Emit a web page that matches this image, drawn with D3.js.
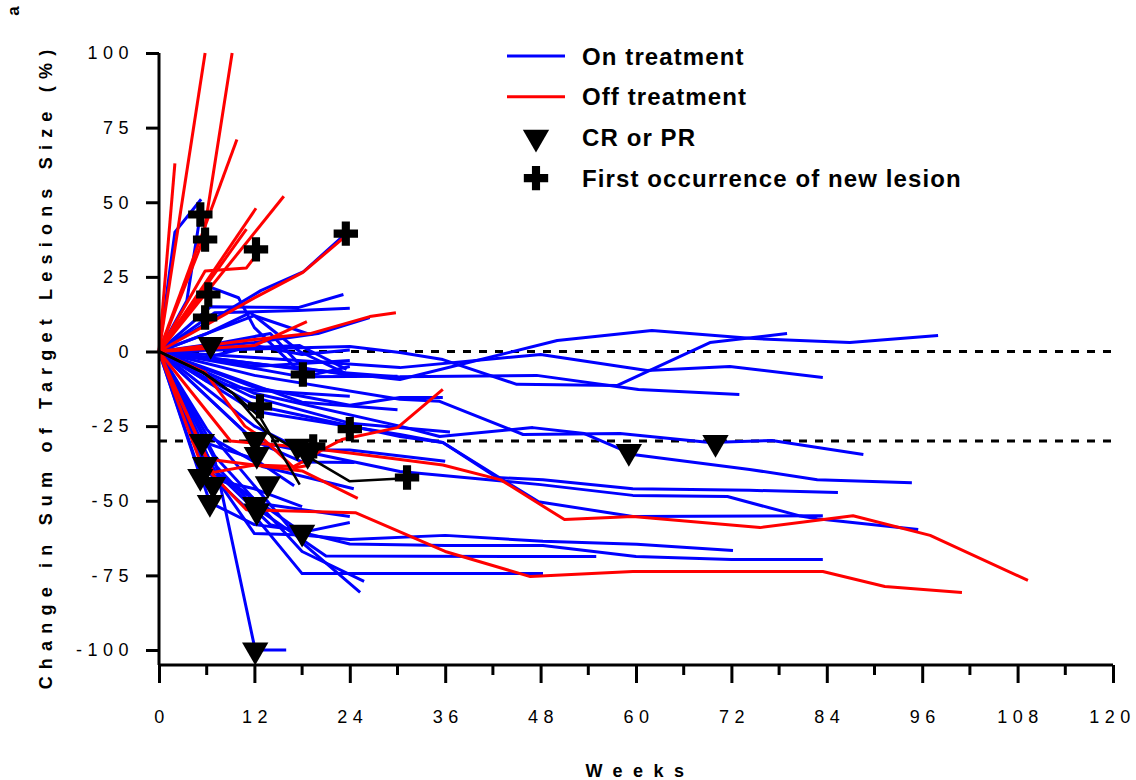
<!DOCTYPE html>
<html>
<head>
<meta charset="utf-8">
<script src="https://cdn.jsdelivr.net/npm/d3@7"></script>
<style>
  body { margin: 0; background: #fff; }
  text { font-family: "Liberation Sans", Arial, sans-serif; }
</style>
</head>
<body>
<svg id="chart"></svg>
<script>
const width = 1136;
const height = 780;

// patients still on treatment: [week, % change]
const onTreatment = [
  [[0,0],[2,40],[5.3,51]],
  [[0,0],[3.5,17],[5.2,46]],
  [[0,0],[12.8,20.4],[18.2,26.8],[23.5,39.5]],
  [[0,0],[6.5,15],[17.5,14.7],[23.2,19.1]],
  [[0,0],[7,13],[17.5,13.7],[24,14.5]],
  [[0,0],[6,22],[10,18],[12,8],[17,-5],[24,-8]],
  [[0,0],[12,3],[20,6],[26.5,11.4]],
  [[0,0],[12,12],[19,5.7],[23.4,9]],
  [[0,0],[6,6],[11.5,13],[17.7,0],[24,-8]],
  [[0,0],[12,-4],[30.3,-9.4],[50.1,3.7],[62,7],[74.3,4.4],[86.9,3],[98,5.4]],
  [[0,0],[24,1.7],[30.3,-0.3],[35.7,-2.7],[45,-11],[57.6,-11.4],[69.3,3],[79,6]],
  [[0,0],[12,-2],[30.3,-5.4],[48,-1],[61.4,-6.4],[71.8,-5],[83.5,-8.7]],
  [[0,0],[18,-6],[30.3,-8.5],[47.5,-8],[60.3,-12.7],[73,-14.4]],
  [[0,0],[12,-12],[24,-18],[30.3,-15.4],[35.7,-15.4]],
  [[0,0],[12,-8],[30.3,-16],[35.3,-16.7],[45.8,-27.8],[58,-27.5],[69.3,-30.5],[77.1,-29.8],[88.6,-34.5]],
  [[0,0],[12,-14],[30.3,-25],[35.3,-28.5],[47,-25.5],[53.5,-27.5],[59.6,-34.5],[74.3,-39.5],[82.8,-43],[94.7,-44]],
  [[0,0],[12,-18],[30.3,-28.5],[35.7,-30.5],[42.5,-42.2],[48.3,-43],[59.6,-46],[74.3,-46.5],[85.4,-47.2]],
  [[0,0],[12,-20],[30.3,-27.8],[35.7,-30.5],[47.7,-50.3],[59.6,-55.3],[83.5,-55]],
  [[0,0],[12,-30],[30.3,-40.2],[48,-44.6],[59.6,-48.2],[71.5,-48.6],[80.5,-55],[82.8,-56],[95.5,-59.6]],
  [[0,0],[6,-38],[12,-61],[18,-61.5],[24,-63],[36,-61.6],[48.3,-63.6],[60.1,-64.6],[72.2,-66.7]],
  [[0,0],[7,-40],[14,-58],[24,-64.5],[36,-65],[48.3,-65],[60,-68.7],[72,-69.7],[83.5,-69.7]],
  [[0,0],[6,-40],[12,-55],[18,-74.4],[48.3,-74.4]],
  [[0,0],[6,-35],[12,-52],[21,-68.5],[55,-68.7]],
  [[0,0],[6,-26],[18,-64],[25.3,-80.7]],
  [[0,0],[7,-35],[18,-67],[25.8,-77]],
  [[0,0],[7,-36],[12.1,-100],[16,-100]],
  [[0,0],[6,-40],[13,-51],[24,-55.3]],
  [[0,0],[7,-40],[18,-60.6],[24,-57.3]],
  [[0,0],[6,-28],[13,-38.5],[24.5,-46]],
  [[0,0],[12,-30],[18,-37],[24.6,-37.2]],
  [[0,0],[12,-25],[18,-33],[24,-33],[36,-36.8]],
  [[0,0],[17.7,2],[23.6,-6]],
  [[0,0],[18,-8.5],[30,-8.3]],
  [[0,0],[18,-17],[30,-19.5]],
  [[0,0],[5.4,-30.2],[12,-36],[17,-45]],
  [[0,0],[5.2,-41.9],[12,-46],[18,-52]],
  [[0,0],[6,-10],[12,-13],[18,-14],[24,-15]],
  [[0,0],[12,-5],[18,-4],[24,-3]],
  [[0,0],[11.5,-15],[24,-24],[36.6,-27]],
  [[0,0],[6,-2],[12,2],[18,-1],[24,0.5]],
  [[0,0],[8,3],[14,6],[19,-8],[24,-5]],
  [[0,0],[6.4,-50.6],[12,-58],[18,-60]]
];

// patients off treatment
const offTreatment = [
  [[0,0],[2,63]],
  [[0,0],[5.8,100]],
  [[0,0],[5.5,37],[9.2,100]],
  [[0,0],[9.8,71]],
  [[0,0],[15.7,52]],
  [[0,0],[12.2,48]],
  [[0,0],[11,41]],
  [[0,0],[5.8,27],[11,28],[13,35]],
  [[0,0],[12.3,18.4],[18.1,26.5],[23.4,38.5]],
  [[0,0],[12,4],[19,6],[26.5,11.7],[29.8,13]],
  [[0,0],[12,2],[18.6,10]],
  [[0,0],[6,21]],
  [[0,0],[7,27]],
  [[0,0],[6.8,-40.5],[12,-38],[17,-38.5],[18.7,-36],[20.5,-33],[23,-29.5],[30,-25.5],[35.7,-12.7]],
  [[0,0],[5.8,-7],[10.8,-25],[13,-29],[17,-39],[19,-38]],
  [[0,0],[9,-30],[17.7,-32],[24,-34],[35.7,-38],[43,-43],[51,-56.3],[59.6,-55.3],[75.6,-59],[87.3,-55],[97,-61.6],[109.3,-76.7]],
  [[0,0],[5.2,-37],[11,-53],[24.7,-54],[36,-67],[46.7,-75.4],[59.6,-73.7],[83.5,-73.7],[91.3,-78.7],[101,-80.7]],
  [[0,0],[6,-36],[12,-38],[18,-40],[25,-49.2]]
];

// other patients (black)
const otherPatients = [
  [[0,0],[5.5,-7],[9.3,-14],[12.7,-22],[17.7,-44.6]],
  [[0,0],[5.5,-7],[9.3,-14],[13.5,-27],[24,-43.5],[31,-42.5]]
];

const crPr = [
  [6.5,2.3],[5.4,-30.2],[12.1,-29.5],[17.4,-31.8],[18.7,-34.5],[12.3,-34.5],
  [5.8,-37.9],[5.2,-41.9],[6.8,-44.6],[13.7,-44.3],[6.4,-50.6],[12.1,-51.3],
  [12.3,-53.5],[18,-60.6],[12.1,-100],[59.1,-33.5],[70,-30.5]
];

const newLesion = [
  [5.2,45.9],[5.8,37.5],[12.2,34.2],[23.5,39.5],[6.2,19.1],[5.8,11.4],
  [18.1,-7.7],[12.7,-18.4],[24,-26],[31.2,-42.2],[19.4,-31.8]
];

const refLines = [0, -30];
const xTicks = d3.range(0, 121, 12);
const xMinor = d3.range(6, 120, 12);
const yTicks = [100, 75, 50, 25, 0, -25, -50, -75, -100];

const legendItems = [
  {label: 'On treatment', type: 'line', color: '#0000ff'},
  {label: 'Off treatment', type: 'line', color: '#ff0000'},
  {label: 'CR or PR', type: 'tri'},
  {label: 'First occurrence of new lesion', type: 'cross'}
];

const svg = d3.select('#chart').attr('width', width).attr('height', height);

const x = d3.scaleLinear().domain([0, 120]).range([159, 1113]);
const y = d3.scaleLinear().domain([-100, 100]).range([650, 53]);
const xAxisY = 665;

const line = d3.line().x(d => x(d[0])).y(d => y(d[1]));

// reference dashed lines
svg.append('g').selectAll('line')
  .data(refLines).enter().append('line')
  .attr('x1', x(0)).attr('x2', x(120))
  .attr('y1', d => y(d)).attr('y2', d => y(d))
  .attr('stroke', '#000').attr('stroke-width', 3)
  .attr('stroke-dasharray', '8,8');

const drawSeries = (list, color, w) => {
  svg.append('g').selectAll('path')
    .data(list).enter().append('path')
    .attr('d', line)
    .attr('fill', 'none')
    .attr('stroke', color)
    .attr('stroke-width', w)
    .attr('stroke-linejoin', 'round');
};
drawSeries(onTreatment, '#0000ff', 3);
drawSeries(offTreatment, '#ff0000', 3);
drawSeries(otherPatients, '#000', 2.5);

const triPath = d3.symbol(d3.symbolTriangle, 300)();
const crossPath = d3.symbol(d3.symbolCross, 330)();

svg.append('g').selectAll('path')
  .data(crPr).enter().append('path')
  .attr('d', triPath)
  .attr('transform', d => `translate(${x(d[0])},${y(d[1])}) rotate(180)`)
  .attr('fill', '#000');

svg.append('g').selectAll('path')
  .data(newLesion).enter().append('path')
  .attr('d', crossPath)
  .attr('transform', d => `translate(${x(d[0])},${y(d[1])})`)
  .attr('fill', '#000');

// y axis
const yAxis = svg.append('g').attr('transform', `translate(${x(0)},0)`)
  .call(d3.axisLeft(y).tickValues(yTicks).tickSize(13).tickPadding(12).tickFormat(d => d));
yAxis.select('.domain').attr('d', `M0,${y(100)}V${xAxisY}`);

// x axis
const xAxis = svg.append('g').attr('transform', `translate(0,${xAxisY})`)
  .call(d3.axisBottom(x).tickValues(xTicks).tickSize(18).tickPadding(27));
xAxis.select('.domain').attr('d', `M${x(0)},0H${x(120)}`);
xAxis.append('g').selectAll('line')
  .data(xMinor).enter().append('line')
  .attr('x1', d => x(d)).attr('x2', d => x(d))
  .attr('y1', 0).attr('y2', 10)
  .attr('stroke', '#000').attr('stroke-width', 3);

svg.selectAll('.domain').attr('stroke', '#000').attr('stroke-width', 3);
svg.selectAll('.tick line').attr('stroke', '#000').attr('stroke-width', 3);
svg.selectAll('.tick text')
  .attr('fill', '#000')
  .style('font-size', '18px')
  .style('letter-spacing', '5.5px')
  .style('font-family', '"Liberation Sans", Arial, sans-serif');
xAxis.selectAll('.tick text').attr('dx', d => d === 120 ? '-1px' : '2.5px');

// axis titles
svg.append('text')
  .attr('transform', 'translate(52,366) rotate(-90)')
  .attr('text-anchor', 'middle')
  .style('font-size', '18px').style('font-weight', 'bold').style('letter-spacing', '7.2px')
  .text('Change in Sum of Target Lesions Size (%)');

svg.append('text')
  .attr('x', 640).attr('y', 777)
  .attr('text-anchor', 'middle')
  .style('font-size', '18px').style('font-weight', 'bold').style('letter-spacing', '10.5px')
  .text('Weeks');

svg.append('text')
  .attr('transform', 'translate(19,11) rotate(-90)')
  .attr('text-anchor', 'middle')
  .style('font-size', '17px').style('font-weight', 'bold')
  .text('a');

// legend
const legend = svg.append('g');
const lg = legend.selectAll('g').data(legendItems).enter().append('g')
  .attr('transform', (d, i) => `translate(0,${56 + i * 40.7})`);
lg.filter(d => d.type === 'line').append('line')
  .attr('x1', 507).attr('x2', 565).attr('y1', 0).attr('y2', 0)
  .attr('stroke', d => d.color).attr('stroke-width', 3);
lg.filter(d => d.type === 'tri').append('path')
  .attr('d', triPath).attr('transform', 'translate(536,0) rotate(180)').attr('fill', '#000');
lg.filter(d => d.type === 'cross').append('path')
  .attr('d', crossPath).attr('transform', 'translate(536,0)').attr('fill', '#000');
lg.append('text')
  .attr('x', 582).attr('y', 8.5)
  .style('font-size', '24px').style('font-weight', 'bold').style('letter-spacing', '1.1px')
  .text(d => d.label);
</script>
</body>
</html>
